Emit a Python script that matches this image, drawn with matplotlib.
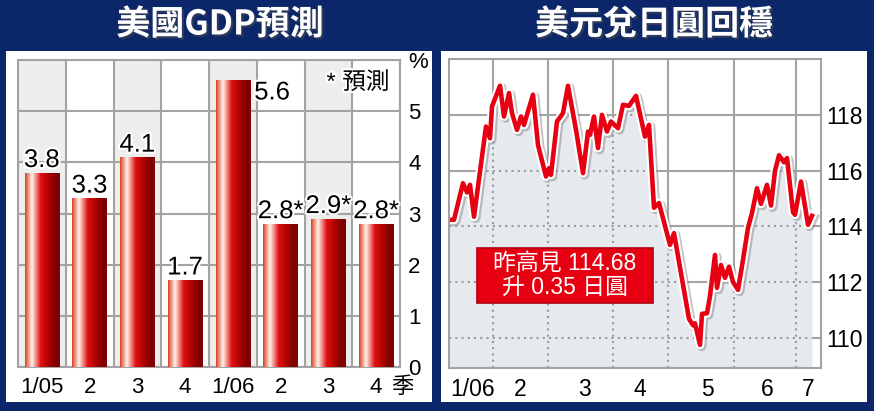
import matplotlib
matplotlib.use("Agg")
import matplotlib.pyplot as plt
import matplotlib.patheffects as pe
from matplotlib.colors import LinearSegmentedColormap
from matplotlib.patches import Rectangle
import numpy as np

plt.rcParams['font.family'] = ['Liberation Sans', 'Noto Sans CJK TC']

NAVY = '#0b2669'
ROJO = '#e60012'
GRIS = '#a3a3a3'

# --- panel izquierdo: PIB de EEUU (trimestral) ---
trimestres = ['1/05', '2', '3', '4', '1/06', '2', '3', '4']
gdp = [3.8, 3.3, 4.1, 1.7, 5.6, 2.8, 2.9, 2.8]
etiquetas_gdp = ['3.8', '3.3', '4.1', '1.7', '5.6', '2.8*', '2.9*', '2.8*']
ticks_pct = ['0', '1', '2', '3', '4', '5', '%']

# --- panel derecho: dolar / yen ---
t_dias = [0, 5, 14, 18, 21, 25, 37, 41, 43, 51, 55, 60, 63, 68, 72, 75, 84, 89, 97, 100,
          102, 108, 114, 119, 127, 134, 139, 141, 145, 149, 153, 158, 162, 169, 174, 180,
          187, 196, 200, 205, 210, 221, 225, 240, 244, 246, 251, 253, 258, 261, 266, 268,
          272, 276, 280, 284, 289, 294, 299, 303, 308, 312, 318, 322, 326, 330, 335, 338,
          344, 346, 352, 359, 363]
usd_jpy = [114.24, 114.24, 115.55, 115.22, 115.49, 114.35, 117.58, 117.16, 118.30, 119.04,
           117.94, 118.78, 118.06, 117.46, 117.94, 117.64, 118.72, 116.92, 115.79, 116.09,
           115.85, 117.76, 118.06, 119.04, 117.46, 115.91, 117.40, 117.28, 117.94, 116.81,
           118.00, 117.40, 117.76, 117.52, 118.36, 118.32, 118.68, 117.22, 117.64, 114.67,
           114.84, 113.34, 113.76, 110.69, 110.46, 110.53, 109.76, 110.87, 110.89, 111.51,
           112.98, 111.80, 112.62, 112.16, 112.56, 112.01, 111.73, 112.80, 113.95, 114.48,
           115.37, 114.81, 115.49, 114.75, 115.99, 116.55, 116.30, 116.45, 114.51, 114.42,
           115.61, 114.06, 114.38]
meses = ['1/06', '2', '3', '4', '5', '6', '7']
pos_meses = [24, 71, 135, 191, 258, 318, 359]
cortes_mes = [43.7, 98.7, 163.7, 219.3, 284.7, 347]
niveles_yen = [110, 112, 114, 116, 118]

fig = plt.figure(figsize=(8.74, 4.11), dpi=100)
fig.patch.set_facecolor(NAVY)

# fondos blancos de cada panel (debajo de los ejes)
for x0 in (6, 441):
    fig.patches.append(Rectangle((x0 / 874, 9 / 411), 426 / 874, 351 / 411,
                                 transform=fig.transFigure, facecolor='white',
                                 edgecolor='none', zorder=-5))

sombra = [pe.withSimplePatchShadow(offset=(1.5, -1.5), alpha=0.5)]
fig.text(220 / 874, 1 - 24 / 411, '美國GDP預測', color='white', fontsize=24.5,
         fontweight='bold', ha='center', va='center',
         family=['Noto Sans CJK TC'], path_effects=sombra)
fig.text(654 / 874, 1 - 24 / 411, '美元兌日圓回穩', color='white', fontsize=24.5,
         fontweight='bold', ha='center', va='center',
         family=['Noto Sans CJK TC'], path_effects=sombra)

# ================= barras =================
ax = fig.add_axes([18 / 874, 44 / 411, 382 / 874, 307 / 411])
ax.patch.set_alpha(0)
x = np.arange(len(gdp))
for i in x:
    if i % 2 == 0:
        ax.axvspan(i - 0.5, i + 0.5, color='#eeeeee', zorder=0, lw=0)
for i in range(len(gdp) + 1):
    ax.axvline(i - 0.5, color=GRIS, lw=1.5, zorder=1)
for v in range(len(ticks_pct)):
    ax.axhline(v, color=GRIS, lw=1.5, zorder=1)

cmap = LinearSegmentedColormap.from_list('barra', [
    (0.0, '#d84020'), (0.2, '#fff2ea'), (0.45, '#e01010'),
    (0.72, '#a80000'), (0.9, '#760000'), (1.0, '#8c0000')])
grad = np.linspace(0, 1, 256).reshape(1, -1)
ancho = 0.72
barras = ax.bar(x, gdp, width=ancho, color='none', edgecolor='none', zorder=3)
for b in barras:
    im = ax.imshow(grad, cmap=cmap, aspect='auto', zorder=3,
                   extent=[b.get_x(), b.get_x() + b.get_width(), 0, b.get_height()])
    im.set_clip_path(b)

halo = [pe.withStroke(linewidth=3, foreground='white')]
for i, (v, txt) in enumerate(zip(gdp, etiquetas_gdp)):
    if v == max(gdp):
        ax.annotate(txt, (i + ancho / 2, v), xytext=(3, 0), textcoords='offset points',
                    ha='left', va='top', fontsize=18.5, zorder=5, path_effects=halo)
    else:
        ax.annotate(txt, (i, v), xytext=(0, 4), textcoords='offset points',
                    ha='center', va='baseline', fontsize=18.5, zorder=5, path_effects=halo)

ax.text(6.62, 5.55, '* 預測', fontsize=17, ha='center', va='center', zorder=5,
        path_effects=halo)

ax.set_xlim(-0.5, len(gdp) - 0.5)
ax.set_ylim(0, 6)
ax.set_xticks(x)
ax.set_xticklabels(trimestres)
ax.set_yticks(range(len(ticks_pct)))
ax.set_yticklabels(ticks_pct)
ax.yaxis.tick_right()
ax.tick_params(axis='both', length=0, labelsize=16)
ax.tick_params(axis='y', pad=6)
ax.tick_params(axis='x', pad=7)
ax.text(7.55, -20 / 307, '季', transform=ax.get_xaxis_transform(), fontsize=16,
        ha='center', va='center')
for s in ax.spines.values():
    s.set_color(GRIS)
    s.set_linewidth(1.5)

# ================= linea del yen =================
ax2 = fig.add_axes([449 / 874, 43 / 411, 372 / 874, 309 / 411])
ax2.patch.set_alpha(0)
y_min, y_max = 108.93, 120.0
ax2.set_xlim(0, 372)
ax2.set_ylim(y_min, y_max)

for v in niveles_yen:
    ax2.axhline(v, color=GRIS, lw=1.5, zorder=1)
for c in cortes_mes:
    ax2.axvline(c, color=GRIS, lw=1.5, zorder=1)

relleno = ax2.fill_between(t_dias, usd_jpy, y_min, color='#e6eaef', lw=0, zorder=2)
zona = relleno.get_paths()[0]
punteadas = []
for v in niveles_yen:
    punteadas.append(ax2.axhline(v, color='#9a9a9a', lw=1.5, ls=(0, (1, 2)), zorder=2.5))
for c in cortes_mes:
    punteadas.append(ax2.axvline(c, color='#9a9a9a', lw=1.5, ls=(0, (1, 2)), zorder=2.5))
for ln in punteadas:
    ln.set_clip_path(zona, ax2.transData)

ax2.plot(t_dias, usd_jpy, color=ROJO, lw=3.3, zorder=4, solid_joinstyle='round',
         path_effects=[pe.SimpleLineShadow(offset=(1.2, -1.2), shadow_color='#888888',
                                           alpha=0.5, linewidth=6.8),
                       pe.Stroke(linewidth=6.3, foreground='white'), pe.Normal()])

ax2.add_patch(Rectangle((28 / 372, 65 / 309), 176 / 372, 55 / 309, transform=ax2.transAxes,
                        facecolor=ROJO, edgecolor='#b0000c', lw=1.2, zorder=5))
ax2.text(116 / 372, 92.5 / 309, '昨高見 114.68\n升 0.35 日圓', transform=ax2.transAxes,
         color='white', fontsize=16.5, ha='center', va='center', linespacing=1.1, zorder=6)

ax2.set_xticks(pos_meses)
ax2.set_xticklabels(meses)
ax2.set_yticks(niveles_yen)
ax2.yaxis.tick_right()
ax2.tick_params(axis='both', length=0, labelsize=16.5)
ax2.tick_params(axis='y', pad=4)
ax2.tick_params(axis='x', pad=7)
for s in ax2.spines.values():
    s.set_color(GRIS)
    s.set_linewidth(1.5)
    s.set_zorder(6)

fig.savefig('out.png', dpi=100, facecolor=NAVY)
